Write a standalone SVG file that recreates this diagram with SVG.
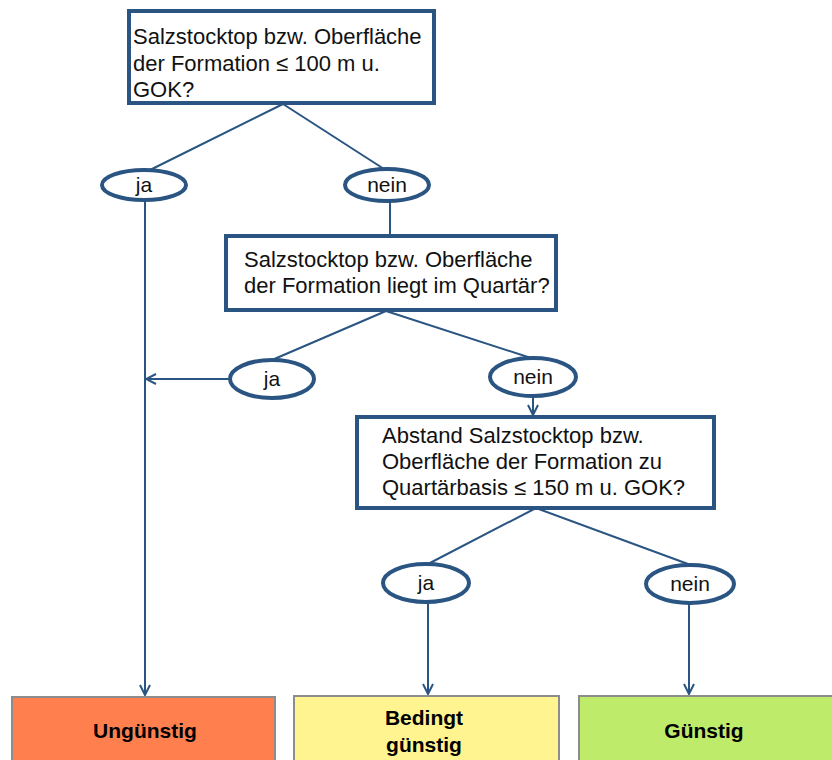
<svg xmlns="http://www.w3.org/2000/svg" width="832" height="760" viewBox="0 0 832 760">
<defs>
<style>
.q{fill:#fff;stroke:#2A5582;stroke-width:4}
.e{fill:#fff;stroke:#2A5582;stroke-width:4}
.t{font-family:"Liberation Sans",Arial,sans-serif;font-size:22px;fill:#111}
.l{font-family:"Liberation Sans",Arial,sans-serif;font-size:21px;fill:#111;text-anchor:middle}
.c{stroke:#2A5582;stroke-width:2;fill:none}
.r{stroke:#8C8C8C;stroke-width:2}
.b{font-family:"Liberation Sans",Arial,sans-serif;font-size:21px;font-weight:bold;fill:#000;text-anchor:middle}
</style>
<marker id="a" viewBox="0 0 12 12" refX="11" refY="6" markerWidth="12" markerHeight="12" markerUnits="userSpaceOnUse" orient="auto">
<path d="M1,1 L11,6 L1,11" fill="none" stroke="#2A5582" stroke-width="2"/>
</marker>
</defs>
<rect width="832" height="760" fill="#fff"/>
<g id="connectors">
<line class="c" x1="283" y1="104" x2="148" y2="171"/>
<line class="c" x1="283" y1="104" x2="384" y2="169"/>
<line class="c" x1="390" y1="202" x2="390" y2="235"/>
<line class="c" x1="145" y1="200" x2="145" y2="695" marker-end="url(#a)"/>
<line class="c" x1="386" y1="311" x2="272" y2="360"/>
<line class="c" x1="386" y1="311" x2="531" y2="358"/>
<line class="c" x1="230" y1="379" x2="146" y2="379" marker-end="url(#a)"/>
<line class="c" x1="533" y1="396" x2="533" y2="415" marker-end="url(#a)"/>
<line class="c" x1="536" y1="508" x2="428" y2="564"/>
<line class="c" x1="536" y1="508" x2="688" y2="564"/>
<line class="c" x1="428" y1="602" x2="428" y2="694" marker-end="url(#a)"/>
<line class="c" x1="689" y1="602" x2="689" y2="694" marker-end="url(#a)"/>
</g>
<g id="q1">
<rect class="q" x="129" y="11" width="305" height="92"/>
<text class="t" x="133" y="44">Salzstocktop bzw. Oberfläche</text>
<text class="t" x="133" y="71">der Formation ≤ 100 m u.</text>
<text class="t" x="133" y="97">GOK?</text>
</g>
<g id="ja1"><ellipse class="e" cx="144" cy="185" rx="42" ry="15"/><text class="l" x="144" y="192">ja</text></g>
<g id="nein1"><ellipse class="e" cx="387" cy="185" rx="42" ry="16"/><text class="l" x="387" y="192">nein</text></g>
<g id="q2">
<rect class="q" x="226" y="236" width="330" height="74"/>
<text class="t" x="244" y="267">Salzstocktop bzw. Oberfläche</text>
<text class="t" x="244" y="293">der Formation liegt im Quartär?</text>
</g>
<g id="ja2"><ellipse class="e" cx="272" cy="379" rx="42" ry="19"/><text class="l" x="272" y="386">ja</text></g>
<g id="nein2"><ellipse class="e" cx="533" cy="377" rx="43" ry="19"/><text class="l" x="533" y="384">nein</text></g>
<g id="q3">
<rect class="q" x="357" y="417" width="357" height="91"/>
<text class="t" x="382" y="443">Abstand Salzstocktop bzw.</text>
<text class="t" x="382" y="469">Oberfläche der Formation zu</text>
<text class="t" x="382" y="495">Quartärbasis ≤ 150 m u. GOK?</text>
</g>
<g id="ja3"><ellipse class="e" cx="426" cy="583" rx="43" ry="19"/><text class="l" x="426" y="590">ja</text></g>
<g id="nein3"><ellipse class="e" cx="690" cy="584" rx="44" ry="19"/><text class="l" x="690" y="591">nein</text></g>
<g id="ungunstig">
<rect class="r" x="12" y="697" width="263" height="70" fill="#FF7F4F"/>
<text class="b" x="145" y="738">Ungünstig</text>
</g>
<g id="bedingt">
<rect class="r" x="294" y="696" width="265" height="70" fill="#FFF48F"/>
<text class="b" x="424" y="725">Bedingt</text>
<text class="b" x="424" y="752">günstig</text>
</g>
<g id="gunstig">
<rect class="r" x="579" y="696" width="262" height="70" fill="#BEEB69"/>
<text class="b" x="704" y="738">Günstig</text>
</g>
</svg>
